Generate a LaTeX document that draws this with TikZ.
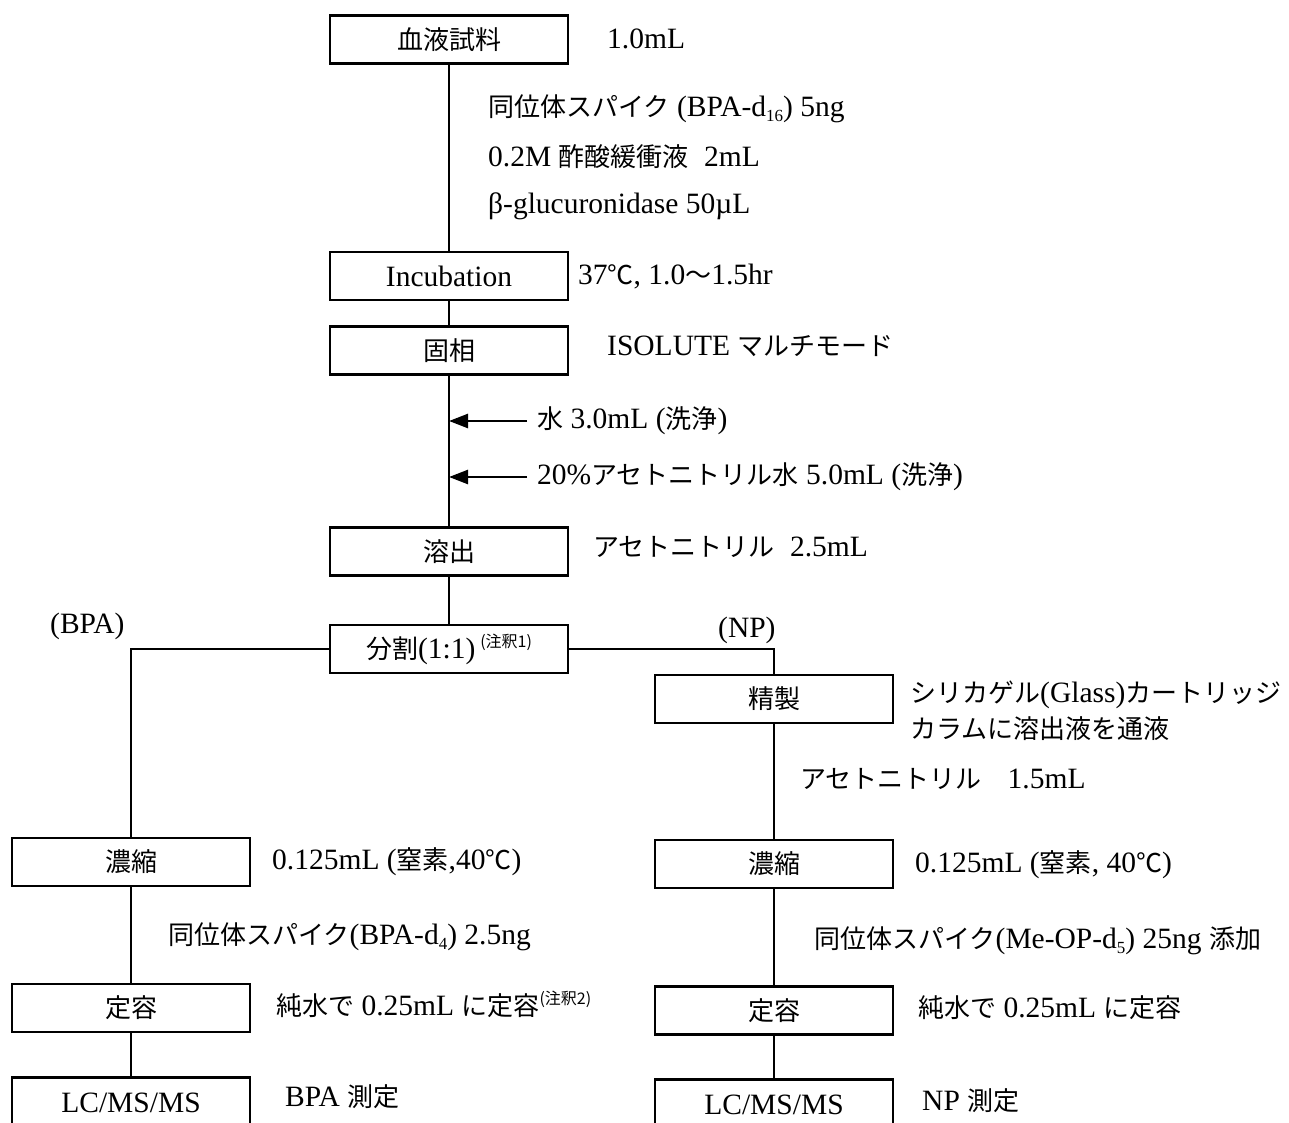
\documentclass[tikz,border=0pt]{standalone}
\usepackage{fontspec}
\setmainfont{Liberation Serif}
\newfontfamily\jpfont{Noto Sans CJK JP}
\usetikzlibrary{arrows.meta}
\newcommand{\J}[1]{{\jpfont\fontsize{26}{30}\selectfont #1}}
\newcommand{\mysub}[1]{\raisebox{-5pt}{\fontsize{17}{17}\selectfont #1}}
\newcommand{\mynote}[1]{\raisebox{11pt}{\jpfont\fontsize{16}{16}\selectfont #1}}
\begin{document}
\begin{tikzpicture}[x=1pt,y=-1pt,
  box/.style={draw, line width=2.6pt, minimum width=238pt, minimum height=48pt, inner sep=0pt, font=\fontsize{29.5}{33}\selectfont},
  ann/.style={anchor=west, inner sep=0pt, font=\fontsize{29.5}{33}\selectfont, text height=20pt, text depth=6pt},
  wire/.style={line width=2.5pt},
  feed/.style={line width=2.5pt, -{Triangle[length=19pt,width=14pt]}}]
\useasboundingbox (0,0) rectangle (1289,1123);
\clip (0,0) rectangle (1289,1123);

% main column
\node[box] (blood) at (449,39.5) {\J{血液試料}};
\node[box] (incub) at (449,276) {Incubation};
\node[box] (solid) at (449,350.5) {\J{固相}};
\node[box] (elute) at (449,551.5) {\J{溶出}};
\node[box] (split) at (449,649) {\J{分割}(1:1)\,\mynote{(注釈1)}};

% right branch
\node[box] (purif) at (774,699) {\J{精製}};
\node[box] (rconc) at (774,864) {\J{濃縮}};
\node[box] (rdef) at (774,1010.5) {\J{定容}};
\node[box, anchor=north, minimum height=52pt] (rlc) at (774,1078) {LC/MS/MS};

% left branch
\node[box] (lconc) at (131,862) {\J{濃縮}};
\node[box] (ldef) at (131,1008) {\J{定容}};
\node[box, anchor=north, minimum height=52pt] (llc) at (131,1076) {LC/MS/MS};

% connectors
\draw[wire] (blood) -- (incub);
\draw[wire] (incub) -- (solid);
\draw[wire] (solid) -- (elute);
\draw[wire] (elute) -- (split);
\draw[wire] (split.west) -| (lconc.north);
\draw[wire] (split.east) -| (purif.north);
\draw[wire] (purif) -- (rconc);
\draw[wire] (rconc) -- (rdef);
\draw[wire] (rdef) -- (rlc);
\draw[wire] (lconc) -- (ldef);
\draw[wire] (ldef) -- (llc);

\coordinate (w1) at (449,421);
\coordinate (w1s) at (527,421);
\coordinate (w2) at (449,477);
\coordinate (w2s) at (527,477);
\draw[feed] (w1s) -- (w1);
\draw[feed] (w2s) -- (w2);

% annotations
\node[ann] (a1) at (607,42) {1.0mL};
\node[ann] (a2) at (488,110) {\J{同位体スパイク} (BPA-d\mysub{16}) 5ng};
\node[ann] (a3) at (488,160) {0.2M \J{酢酸緩衝液}\hspace{8pt} 2mL};
\node[ann] (a4) at (488,207) {β-glucuronidase 50µL};
\node[ann] (a5) at (578,277) {37\J{℃}, 1.0\J{～}1.5hr};
\node[ann] (a6) at (607,348) {ISOLUTE \J{マルチモード}};
\node[ann] (a7) at (537,421) {\J{水} 3.0mL (\J{洗浄})};
\node[ann] (a8) at (537,477) {20\%\J{アセトニトリル水} 5.0mL (\J{洗浄})};
\node[ann] (a9) at (593,549) {\J{アセトニトリル}\hspace{8pt} 2.5mL};
\node[ann] (bpa) at (50,626) {(BPA)};
\node[ann] (np) at (718,630) {(NP)};
\node[ann] (a10) at (910,695) {\J{シリカゲル}(Glass)\J{カートリッジ}};
\node[ann] (a11) at (910,731) {\J{カラムに溶出液を通液}};
\node[ann] (a12) at (800,781) {\J{アセトニトリル}\hspace{26pt}1.5mL};
\node[ann] (a13) at (272,862) {0.125mL (\J{窒素},40\J{℃})};
\node[ann] (a14) at (168,937) {\J{同位体スパイク}(BPA-d\mysub{4}) 2.5ng};
\node[ann] (a15) at (276,1008) {\J{純水で} 0.25mL \J{に定容}\mynote{(注釈2)}};
\node[ann] (a16) at (285,1099) {BPA \J{測定}};
\node[ann] (a17) at (915,865) {0.125mL (\J{窒素}, 40\J{℃})};
\node[ann] (a18) at (814,941) {\J{同位体スパイク}(Me-OP-d\mysub{5}) 25ng \J{添加}};
\node[ann] (a19) at (918,1010) {\J{純水で} 0.25mL \J{に定容}};
\node[ann] (a20) at (922,1103) {NP \J{測定}};
\end{tikzpicture}
\end{document}
